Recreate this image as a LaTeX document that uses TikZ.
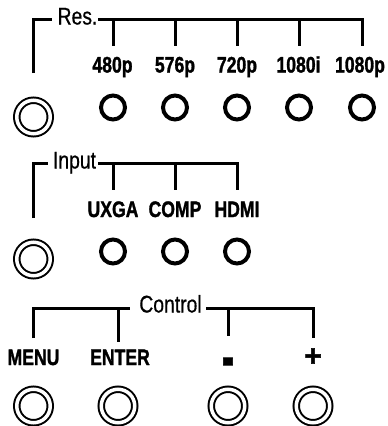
\documentclass[tikz,border=0pt]{standalone}
\usepackage{fontspec}
\setmainfont{Liberation Sans}
\newfontfamily\heavyfont[FakeBold=1.6]{Liberation Sans Bold}
\newfontfamily\titlefont[FakeBold=0.6]{Liberation Sans}
\begin{document}
\begin{tikzpicture}[x=1pt,y=-1pt,line width=3pt,
  lbl/.style={font=\fontsize{20}{20}\heavyfont, xscale=.88, yscale=1.12, anchor=base, inner sep=0pt},
  ttl/.style={font=\fontsize{21}{21}\titlefont, xscale=.92, yscale=1.15, anchor=base, inner sep=0pt},
  knob/.style={circle, draw, line width=4pt, minimum size=24pt, inner sep=0pt},
  dknob/.style={circle, draw, line width=2pt, double=white, double distance=3.5pt, minimum size=33.5pt, inner sep=0pt}]
\useasboundingbox (0,0) rectangle (388,426);

% ---------- Res. ----------
\node[ttl] (res) at (77.5,24.5) {Res.};
\node[dknob] (resk) at (33.5,117) {};
\coordinate (rL0) at (33,73);
\coordinate (rL1) at (33,19);
\coordinate (rL2) at (52,19);
\coordinate (rB) at (98,19);
\draw (rL0) -- (rL1) -- (rL2);
\foreach \n/\x/\lx/\t in {1/113/112.5/480p, 2/175/175/576p, 3/237/237/720p, 4/299/298.5/1080i, 5/362/360/1080p} {
  \node[lbl] (rl\n) at (\lx,72.5) {\t};
  \node[knob] (rk\n) at (\x,107.5) {};
  \coordinate (rt\n) at (\x,19);
  \coordinate (rb\n) at (\x,46);
}
\draw (rB) -- (rt5) -- (rb5);
\foreach \n in {1,2,3,4} \draw (rt\n) -- (rb\n);

% ---------- Input ----------
\node[ttl] (inp) at (74.5,168.5) {Input};
\node[dknob] (inpk) at (33.5,259) {};
\coordinate (iL0) at (33,218);
\coordinate (iL1) at (33,163);
\coordinate (iL2) at (48,163);
\coordinate (iB) at (98,163);
\draw (iL0) -- (iL1) -- (iL2);
\foreach \n/\x/\t in {1/113/UXGA, 2/175/COMP, 3/237/HDMI} {
  \node[lbl] (il\n) at (\x,217) {\t};
  \node[knob] (ik\n) at (\x,251.5) {};
  \coordinate (it\n) at (\x,163);
  \coordinate (ib\n) at (\x,190);
}
\draw (iB) -- (it3) -- (ib3);
\foreach \n in {1,2} \draw (it\n) -- (ib\n);

% ---------- Control ----------
\node[ttl] (ctl) at (170.5,312.5) {Control};
\coordinate (cL0) at (33,338);
\coordinate (cL1) at (33,308);
\coordinate (cL2) at (130,308);
\coordinate (cR0) at (206,308);
\coordinate (cR1) at (313,308);
\coordinate (cR2) at (313,338);
\coordinate (ct2) at (118,308);
\coordinate (cb2) at (118,342);
\coordinate (ct3) at (228,308);
\coordinate (cb3) at (228,336);
\draw (cL0) -- (cL1) -- (cL2);
\draw (cR0) -- (cR1) -- (cR2);
\draw (ct2) -- (cb2);
\draw (ct3) -- (cb3);
\node[lbl] (cl1) at (33.5,365) {MENU};
\node[lbl] (cl2) at (120,365) {ENTER};
\node[font=\fontsize{20}{20}\heavyfont, xscale=1.8, yscale=3, anchor=base, inner sep=0pt] (cl3) at (228,377) {-};
\node[font=\fontsize{30}{30}\heavyfont, anchor=base, inner sep=0pt] (cl4) at (313,366) {+};
\foreach \n/\x in {1/33.5, 2/118, 3/228, 4/313}
  \node[dknob] (ck\n) at (\x,406) {};
\end{tikzpicture}
\end{document}
